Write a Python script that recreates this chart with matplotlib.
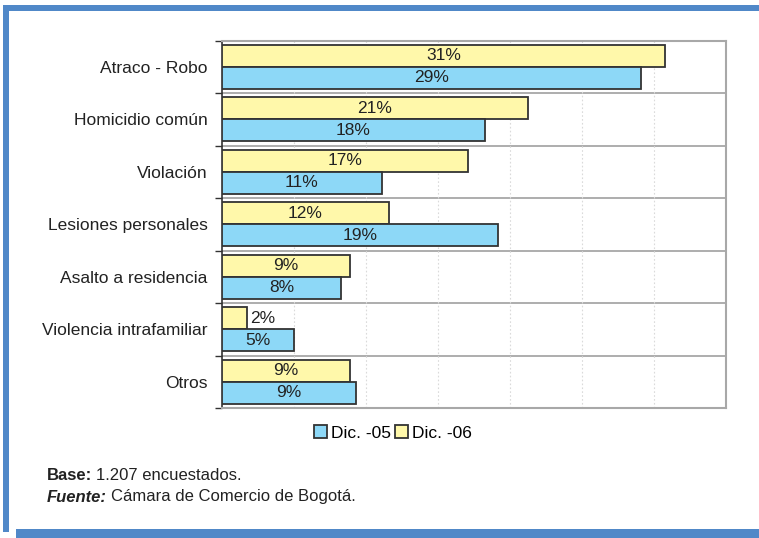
import matplotlib
matplotlib.use("Agg")
import matplotlib.pyplot as plt
import numpy as np
from matplotlib.patches import Rectangle

categories = ["Atraco - Robo", "Homicidio común", "Violación", "Lesiones personales",
              "Asalto a residencia", "Violencia intrafamiliar", "Otros"]
dic05 = [29.1, 18.3, 11.15, 19.2, 8.3, 5.05, 9.3]
dic06 = [30.8, 21.3, 17.1, 11.6, 8.9, 1.75, 8.9]
labels05 = ["29%", "18%", "11%", "19%", "8%", "5%", "9%"]
labels06 = ["31%", "21%", "17%", "12%", "9%", "2%", "9%"]
series_names = ["Dic. -05", "Dic. -06"]

plt.rcParams['font.family'] = ['Liberation Sans', 'DejaVu Sans']

BLUE = "#8DD8F7"
YELLOW = "#FFF8AA"
EDGE = "#333333"
FRAME = "#5088C8"
TXT = "#222222"

fig = plt.figure(figsize=(7.59, 5.38), dpi=100)

# outer frame
fig.patches.append(Rectangle((3/759, 1-532/538), 6/759, (532-5)/538, transform=fig.transFigure,
                             facecolor=FRAME, edgecolor='none', zorder=0))
fig.patches.append(Rectangle((3/759, 1-11/538), 1, 6/538, transform=fig.transFigure,
                             facecolor=FRAME, edgecolor='none', zorder=0))
fig.patches.append(Rectangle((16/759, 0), 1, 9/538, transform=fig.transFigure,
                             facecolor=FRAME, edgecolor='none', zorder=0))

ax = fig.add_axes([221.7/759, 1-408/538, (725.7-221.7)/759, (408-40.7)/538])

n = len(categories)
y = np.arange(n)
h = 0.42
ax.barh(y - h/2, dic06, height=h, color=YELLOW, edgecolor=EDGE, linewidth=1.3, zorder=3, label=series_names[1])
ax.barh(y + h/2, dic05, height=h, color=BLUE, edgecolor=EDGE, linewidth=1.3, zorder=3, label=series_names[0])

for i in range(n):
    for val, lab, yy in ((dic06[i], labels06[i], y[i] - h/2), (dic05[i], labels05[i], y[i] + h/2)):
        if val < 4:
            ax.text(val + 0.25, yy, lab, ha='left', va='center', fontsize=12.5, color=TXT, zorder=4)
        else:
            ax.text(val / 2, yy, lab, ha='center', va='center', fontsize=12.5, color=TXT, zorder=4)

ax.set_xlim(0, 35)
ax.set_ylim(n - 0.5, -0.5)
ax.set_xticks(np.arange(5, 35, 5))
ax.xaxis.grid(True, linestyle=(0, (1.5, 2)), color="#DADADA", linewidth=0.8, zorder=0)
ax.tick_params(axis='x', length=0, labelbottom=False)

# category separators
for b in np.arange(0.5, n - 0.5, 1):
    ax.axhline(b, color="#A0A0A0", linewidth=1.2, zorder=1)

ax.set_yticks(np.arange(-0.5, n, 1), minor=False)
ax.set_yticklabels([])
ax.set_yticks(y, minor=True)
ax.set_yticklabels(categories, minor=True, fontsize=12.5, color=TXT)
ax.tick_params(axis='y', which='major', length=5, width=1.0, color="#333333", direction='out')
ax.tick_params(axis='y', which='minor', length=0, pad=10)

for s in ['top', 'right', 'bottom']:
    ax.spines[s].set_color("#A8A8A8")
    ax.spines[s].set_linewidth(1.5)
ax.spines['left'].set_color("#333333")
ax.spines['left'].set_linewidth(1.2)

handles, labs = ax.get_legend_handles_labels()
leg = fig.legend([handles[1], handles[0]], [labs[1], labs[0]], loc='center',
                 bbox_to_anchor=(393/759, 1-433/538), ncol=2, frameon=False,
                 fontsize=12.5, handlelength=0.75, handleheight=0.75, handletextpad=0.25,
                 columnspacing=0.2, borderpad=0)

# footnote with runs placed by measured extents
renderer = fig.canvas.get_renderer()

def run_line(x0, ypix, parts):
    x = x0
    for txt, kw in parts:
        t = fig.text(x / 759, 1 - ypix / 538, txt, fontsize=12, va='center', color=TXT, **kw)
        bb = t.get_window_extent(renderer=renderer)
        x += bb.width + 4

run_line(47, 475, [("Base:", dict(fontweight='bold')), ("1.207 encuestados.", {})])
run_line(47, 497, [("Fuente:", dict(fontweight='bold', style='italic')), ("Cámara de Comercio de Bogotá.", {})])

fig.savefig("out.png", dpi=100)
